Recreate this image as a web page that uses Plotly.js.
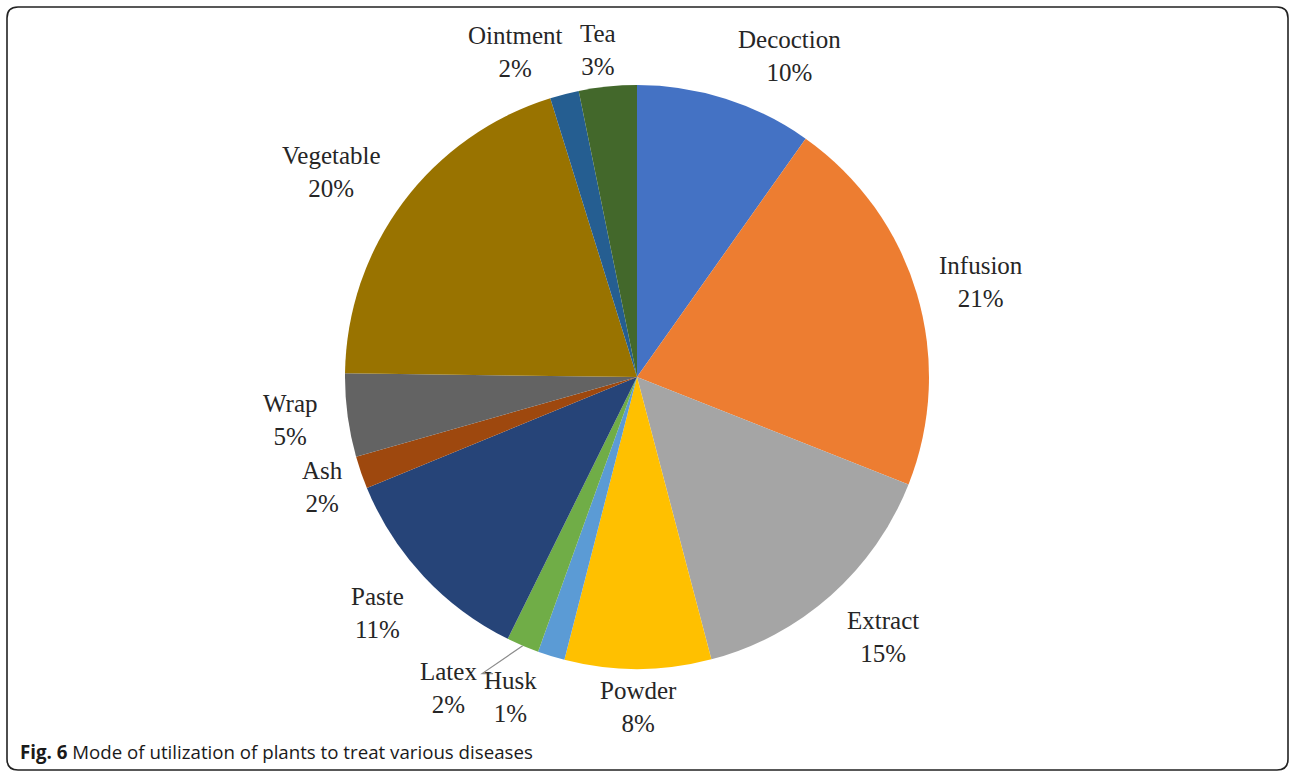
<!DOCTYPE html>
<html><head><meta charset="utf-8">
<script src="https://cdn.plot.ly/plotly-3.0.1.min.js"></script>
<style>html,body{margin:0;padding:0;background:#fff}#chart{width:1290px;height:773px}</style>
</head><body><div id="chart"></div>
<script>
// ---- data ----
const categories = ["Decoction","Infusion","Extract","Powder","Husk","Latex","Paste","Ash","Wrap","Vegetable","Ointment","Tea"];
const shares = [9.8, 21.2, 14.9, 8.1, 1.5, 1.8, 11.5, 1.8, 4.6, 20.0, 1.6, 3.2];
const percentLabels = ["10%","21%","15%","8%","1%","2%","11%","2%","5%","20%","2%","3%"];
const sliceColors = ["#4472C4","#ED7D31","#A5A5A5","#FFC000","#5B9BD5","#70AD47","#264478","#9E480E","#636363","#997300","#255E91","#43682B"];

// ---- layout constants ----
const W = 1290, H = 773;
const cx = 637, cy = 377, R = 292;      // pie centre / radius in pixels
const labelRadius = 350;                // base radial distance of label centres
// Excel-style "best fit" adjustments of label positions (pixels)
const labelNudge = {
  Decoction:[46,13], Infusion:[9,5], Extract:[14,-2], Powder:[0,-20], Husk:[-24,-15],
  Latex:[-52,-11], Paste:[-4,-3], Ash:[16,-4], Wrap:[0,-3], Vegetable:[-25,4],
  Ointment:[-35,14], Tea:[-4,21]
};
const leaderFrom = "Latex", leaderTo = "Husk";

const px = x => x / W;
const py = y => 1 - y / H;

const trace = {
  type: "pie",
  labels: categories,
  values: shares,
  textinfo: "none",
  sort: false,
  direction: "clockwise",
  rotation: 0,
  marker: {colors: sliceColors, line: {width: 0}},
  domain: {x: [px(cx-R), px(cx+R)], y: [py(cy+R), py(cy-R)]},
  hoverinfo: "label+percent"
};

// labels placed at each slice's mid-angle (computed from the data)
const total = shares.reduce((a,b)=>a+b,0);
let cum = 0;
const annotations = [];
const shapes = [];
const labelPos = {}, edgePos = {};
const labelFont = {family: "Liberation Serif", size: 25, color: "#262626"};
categories.forEach((c,i)=>{
  const mid = (cum + shares[i]/2) / total * 2*Math.PI;
  cum += shares[i];
  const s = Math.sin(mid), co = Math.cos(mid);
  const n = labelNudge[c] || [0,0];
  const lx = cx + labelRadius*s + n[0];
  const ly = cy - labelRadius*co + n[1];
  labelPos[c] = [lx, ly];
  edgePos[c] = [cx + R*s, cy - R*co];
  annotations.push({
    xref:"paper", yref:"paper", x: px(lx), y: py(ly), xanchor:"center", yanchor:"middle",
    showarrow:false, align:"center", text: c + "<br>" + percentLabels[i], font: labelFont
  });
});
// leader line
{
  const e = edgePos[leaderFrom], l = labelPos[leaderTo];
  shapes.push({type:"path", xref:"paper", yref:"paper",
    path:`M ${px(e[0])} ${py(e[1])} L ${px(l[0]-28)} ${py(l[1]-23)} L ${px(l[0]-17)} ${py(l[1]-23)}`,
    line:{color:"#8c8c8c", width:1.2}});
}

// caption
annotations.push({
  xref:"paper", yref:"paper", x: px(18), y: py(751), xanchor:"left", yanchor:"middle",
  showarrow:false, align:"left",
  text:"<b>Fig. 6</b> Mode of utilization of plants to treat various diseases",
  font:{family:"Open Sans", size:18.7, color:"#1a1a1a"}
});

// frame (rounded rectangle)
const L=7, T=7, Rr=1288, B=770, rad=11;
shapes.push({
  type:"path", xref:"paper", yref:"paper",
  path: `M ${px(L)} ${py(B-rad)} L ${px(L)} ${py(T+rad)} Q ${px(L)} ${py(T)} ${px(L+rad)} ${py(T)} L ${px(Rr-rad)} ${py(T)} Q ${px(Rr)} ${py(T)} ${px(Rr)} ${py(T+rad)} L ${px(Rr)} ${py(B-rad)} Q ${px(Rr)} ${py(B)} ${px(Rr-rad)} ${py(B)} L ${px(L+rad)} ${py(B)} Q ${px(L)} ${py(B)} ${px(L)} ${py(B-rad)} Z`,
  line:{color:"#222222", width:1.6}
});

const layout = {
  width: W, height: H,
  margin: {l:0, r:0, t:0, b:0},
  showlegend: false,
  paper_bgcolor: "#ffffff",
  shapes: shapes,
  annotations: annotations
};
Plotly.newPlot("chart", [trace], layout, {displayModeBar: false, staticPlot: true});
</script></body></html>
